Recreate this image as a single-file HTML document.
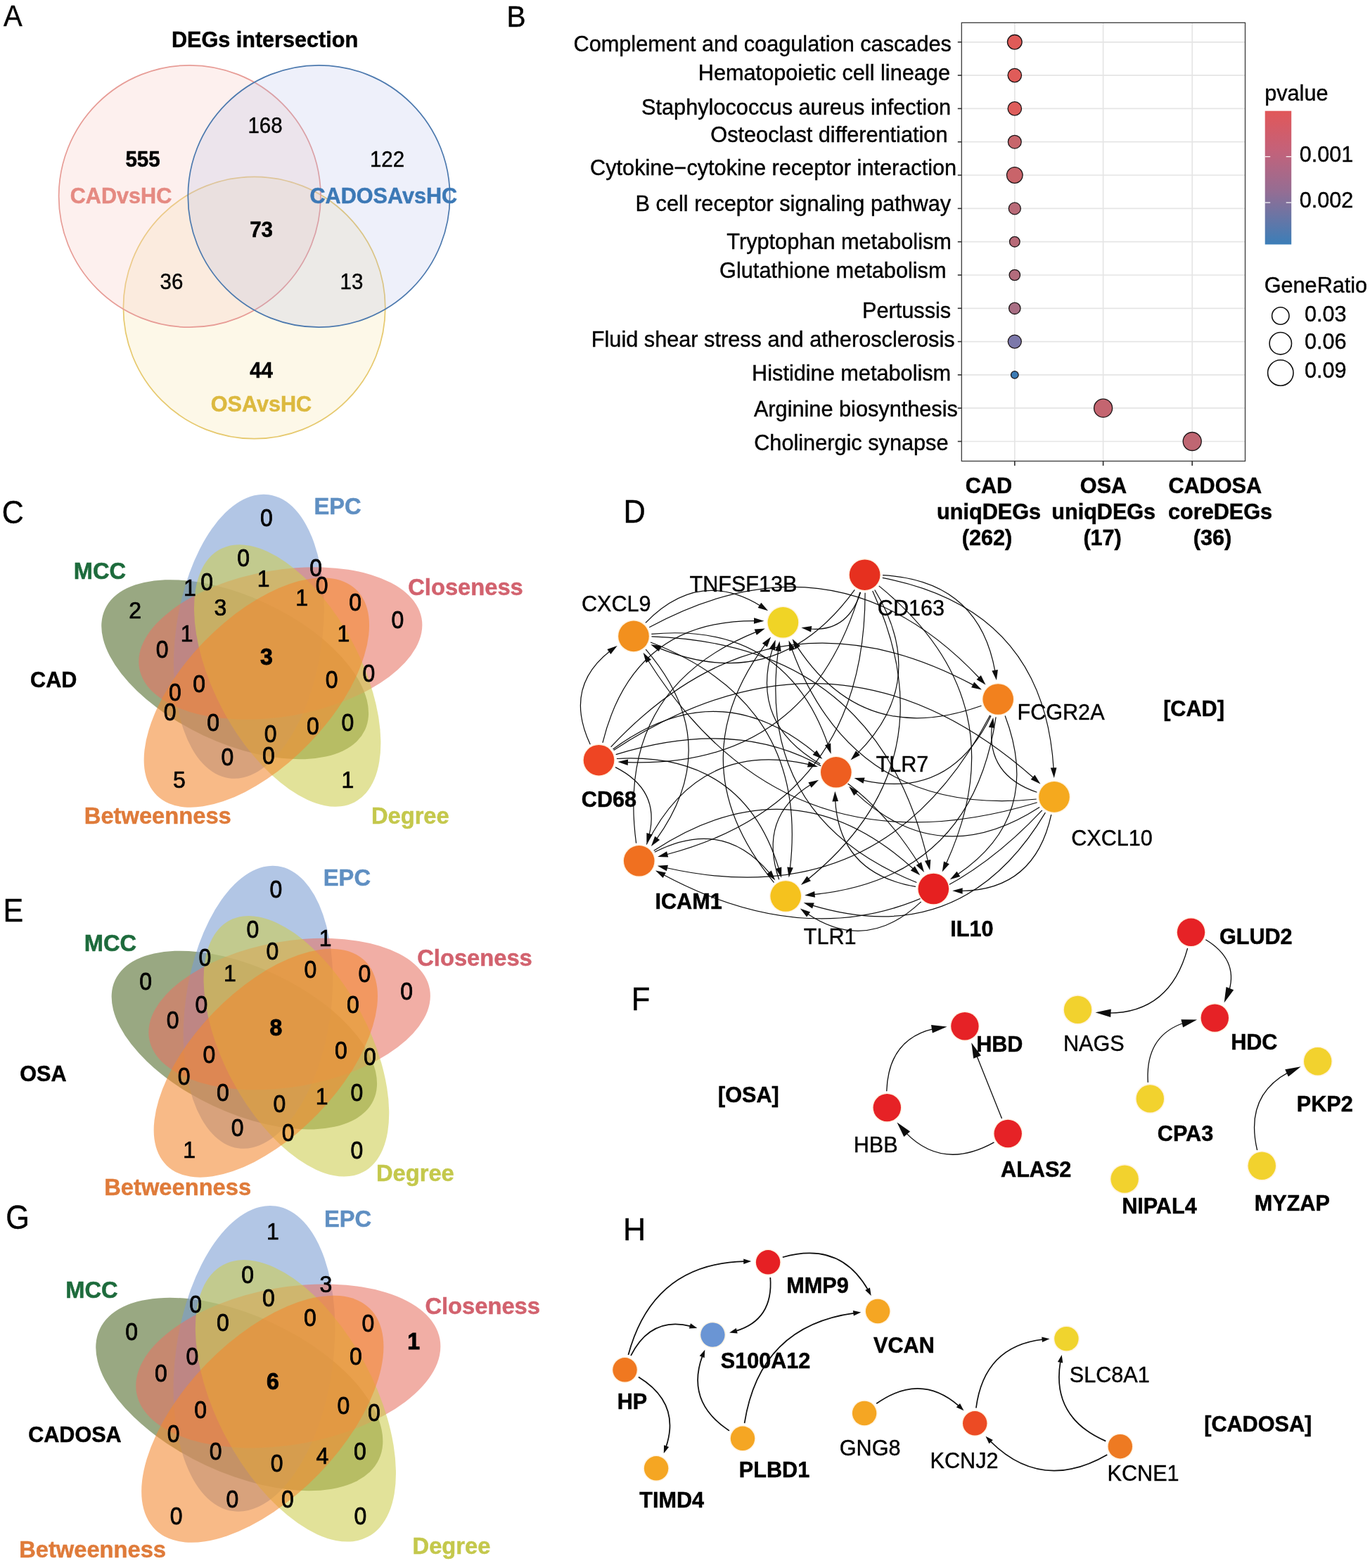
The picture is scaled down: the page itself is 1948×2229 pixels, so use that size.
<!DOCTYPE html>
<html lang="en"><head><meta charset="utf-8"><title>Figure</title>
<style>html,body{margin:0;padding:0;background:#fff}svg{display:block}svg text{font-family:"Liberation Sans",sans-serif}</style></head>
<body>
<svg width="1948" height="2229" viewBox="0 0 1948 2229" role="img" aria-label="Multi-panel figure: DEG Venn diagram, KEGG dot plot, hub-gene Venn diagrams and PPI networks">
<rect width="1948" height="2229" fill="#fff"/>
<g id="panelA">
<circle cx="361.6" cy="437.5" r="186.2" fill="rgb(248,232,178)" fill-opacity="0.3" stroke="#e6c96e" stroke-width="1.7"/>
<circle cx="269.8" cy="279.0" r="186.2" fill="rgb(248,205,198)" fill-opacity="0.3" stroke="#e79c96" stroke-width="1.7"/>
<circle cx="453.5" cy="279.0" r="186.2" fill="rgb(170,180,230)" fill-opacity="0.2" stroke="#4c79ae" stroke-width="1.7"/>
<text x="376.5" y="66.5" font-size="30.6" font-weight="bold" text-anchor="middle" stroke="#000" stroke-width="0.5">DEGs intersection</text>
<text transform="translate(377.0,188.8) scale(1,1.035)" font-size="29.5" text-anchor="middle" stroke="#000" stroke-width="0.4">168</text>
<text transform="translate(203.0,236.8) scale(1,1.035)" font-size="29.5" font-weight="bold" text-anchor="middle" stroke="#000" stroke-width="0.5">555</text>
<text transform="translate(550.5,237.4) scale(1,1.035)" font-size="29.5" text-anchor="middle" stroke="#000" stroke-width="0.4">122</text>
<text x="172.0" y="288.5" font-size="30.6" font-weight="bold" text-anchor="middle" fill="#e58a82" stroke="#e58a82" stroke-width="0.5">CADvsHC</text>
<text x="545.3" y="289.0" font-size="30.6" font-weight="bold" text-anchor="middle" fill="#3c79b6" stroke="#3c79b6" stroke-width="0.5">CADOSAvsHC</text>
<text transform="translate(371.6,336.8) scale(1,1.035)" font-size="29.5" font-weight="bold" text-anchor="middle" stroke="#000" stroke-width="0.5">73</text>
<text transform="translate(244.0,410.8) scale(1,1.035)" font-size="29.5" text-anchor="middle" stroke="#000" stroke-width="0.4">36</text>
<text transform="translate(500.0,410.8) scale(1,1.035)" font-size="29.5" text-anchor="middle" stroke="#000" stroke-width="0.4">13</text>
<text transform="translate(371.6,537.2) scale(1,1.035)" font-size="29.5" font-weight="bold" text-anchor="middle" stroke="#000" stroke-width="0.5">44</text>
<text x="371.5" y="584.6" font-size="30.6" font-weight="bold" text-anchor="middle" fill="#dcb93f" stroke="#dcb93f" stroke-width="0.5">OSAvsHC</text>
</g>
<g id="panelB">
<line x1="1367.3" x2="1770.5" y1="59.8" y2="59.8" stroke="#e5e5e5" stroke-width="1.7"/>
<line x1="1367.3" x2="1770.5" y1="107.1" y2="107.1" stroke="#e5e5e5" stroke-width="1.7"/>
<line x1="1367.3" x2="1770.5" y1="154.4" y2="154.4" stroke="#e5e5e5" stroke-width="1.7"/>
<line x1="1367.3" x2="1770.5" y1="201.7" y2="201.7" stroke="#e5e5e5" stroke-width="1.7"/>
<line x1="1367.3" x2="1770.5" y1="249.0" y2="249.0" stroke="#e5e5e5" stroke-width="1.7"/>
<line x1="1367.3" x2="1770.5" y1="296.4" y2="296.4" stroke="#e5e5e5" stroke-width="1.7"/>
<line x1="1367.3" x2="1770.5" y1="343.7" y2="343.7" stroke="#e5e5e5" stroke-width="1.7"/>
<line x1="1367.3" x2="1770.5" y1="391.0" y2="391.0" stroke="#e5e5e5" stroke-width="1.7"/>
<line x1="1367.3" x2="1770.5" y1="438.3" y2="438.3" stroke="#e5e5e5" stroke-width="1.7"/>
<line x1="1367.3" x2="1770.5" y1="485.6" y2="485.6" stroke="#e5e5e5" stroke-width="1.7"/>
<line x1="1367.3" x2="1770.5" y1="532.9" y2="532.9" stroke="#e5e5e5" stroke-width="1.7"/>
<line x1="1367.3" x2="1770.5" y1="580.2" y2="580.2" stroke="#e5e5e5" stroke-width="1.7"/>
<line x1="1367.3" x2="1770.5" y1="627.5" y2="627.5" stroke="#e5e5e5" stroke-width="1.7"/>
<line x1="1442.8" x2="1442.8" y1="32.3" y2="655.5" stroke="#e5e5e5" stroke-width="1.7"/>
<line x1="1568.6" x2="1568.6" y1="32.3" y2="655.5" stroke="#e5e5e5" stroke-width="1.7"/>
<line x1="1695.2" x2="1695.2" y1="32.3" y2="655.5" stroke="#e5e5e5" stroke-width="1.7"/>
<rect x="1367.3" y="32.3" width="403.2" height="623.2" fill="none" stroke="#3a3a3a" stroke-width="1.3"/>
<line x1="1361.8" x2="1367.3" y1="59.8" y2="59.8" stroke="#333" stroke-width="1.6"/>
<line x1="1361.8" x2="1367.3" y1="107.1" y2="107.1" stroke="#333" stroke-width="1.6"/>
<line x1="1361.8" x2="1367.3" y1="154.4" y2="154.4" stroke="#333" stroke-width="1.6"/>
<line x1="1361.8" x2="1367.3" y1="201.7" y2="201.7" stroke="#333" stroke-width="1.6"/>
<line x1="1361.8" x2="1367.3" y1="249.0" y2="249.0" stroke="#333" stroke-width="1.6"/>
<line x1="1361.8" x2="1367.3" y1="296.4" y2="296.4" stroke="#333" stroke-width="1.6"/>
<line x1="1361.8" x2="1367.3" y1="343.7" y2="343.7" stroke="#333" stroke-width="1.6"/>
<line x1="1361.8" x2="1367.3" y1="391.0" y2="391.0" stroke="#333" stroke-width="1.6"/>
<line x1="1361.8" x2="1367.3" y1="438.3" y2="438.3" stroke="#333" stroke-width="1.6"/>
<line x1="1361.8" x2="1367.3" y1="485.6" y2="485.6" stroke="#333" stroke-width="1.6"/>
<line x1="1361.8" x2="1367.3" y1="532.9" y2="532.9" stroke="#333" stroke-width="1.6"/>
<line x1="1361.8" x2="1367.3" y1="580.2" y2="580.2" stroke="#333" stroke-width="1.6"/>
<line x1="1361.8" x2="1367.3" y1="627.5" y2="627.5" stroke="#333" stroke-width="1.6"/>
<line x1="1442.8" x2="1442.8" y1="655.5" y2="662.0" stroke="#333" stroke-width="1.7"/>
<line x1="1568.6" x2="1568.6" y1="655.5" y2="662.0" stroke="#333" stroke-width="1.7"/>
<line x1="1695.2" x2="1695.2" y1="655.5" y2="662.0" stroke="#333" stroke-width="1.7"/>
<text x="1352.9" y="73.0" font-size="30.7" text-anchor="end" stroke="#000" stroke-width="0.4">Complement and coagulation cascades</text>
<text x="1351.0" y="113.8" font-size="30.7" text-anchor="end" stroke="#000" stroke-width="0.4">Hematopoietic cell lineage</text>
<text x="1352.2" y="163.0" font-size="30.7" text-anchor="end" stroke="#000" stroke-width="0.4">Staphylococcus aureus infection</text>
<text x="1347.5" y="202.2" font-size="30.7" text-anchor="end" stroke="#000" stroke-width="0.4">Osteoclast differentiation</text>
<text x="1360.2" y="249.4" font-size="30.7" text-anchor="end" stroke="#000" stroke-width="0.4">Cytokine−cytokine receptor interaction</text>
<text x="1352.2" y="299.7" font-size="30.7" text-anchor="end" stroke="#000" stroke-width="0.4">B cell receptor signaling pathway</text>
<text x="1352.9" y="353.6" font-size="30.7" text-anchor="end" stroke="#000" stroke-width="0.4">Tryptophan metabolism</text>
<text x="1345.5" y="395.0" font-size="30.7" text-anchor="end" stroke="#000" stroke-width="0.4">Glutathione metabolism</text>
<text x="1352.2" y="452.0" font-size="30.7" text-anchor="end" stroke="#000" stroke-width="0.4">Pertussis</text>
<text x="1357.6" y="493.2" font-size="30.7" text-anchor="end" stroke="#000" stroke-width="0.4">Fluid shear stress and atherosclerosis</text>
<text x="1352.2" y="541.4" font-size="30.7" text-anchor="end" stroke="#000" stroke-width="0.4">Histidine metabolism</text>
<text x="1361.9" y="591.6" font-size="30.7" text-anchor="end" stroke="#000" stroke-width="0.4">Arginine biosynthesis</text>
<text x="1348.5" y="639.5" font-size="30.7" text-anchor="end" stroke="#000" stroke-width="0.4">Cholinergic synapse</text>
<circle cx="1442.8" cy="59.8" r="10.3" fill="#e05b58" stroke="#1c1416" stroke-width="1.3"/>
<circle cx="1442.8" cy="107.1" r="9.7" fill="#e05c59" stroke="#1c1416" stroke-width="1.3"/>
<circle cx="1442.8" cy="154.4" r="9.7" fill="#de5d5b" stroke="#1c1416" stroke-width="1.3"/>
<circle cx="1442.8" cy="201.7" r="9.4" fill="#c8666c" stroke="#1c1416" stroke-width="1.3"/>
<circle cx="1442.8" cy="249.0" r="11.3" fill="#c9646a" stroke="#1c1416" stroke-width="1.3"/>
<circle cx="1442.8" cy="296.4" r="8.5" fill="#b96a78" stroke="#1c1416" stroke-width="1.3"/>
<circle cx="1442.8" cy="343.7" r="7.3" fill="#b86a78" stroke="#1c1416" stroke-width="1.3"/>
<circle cx="1442.8" cy="391.0" r="7.7" fill="#b36c7c" stroke="#1c1416" stroke-width="1.3"/>
<circle cx="1442.8" cy="438.3" r="8.2" fill="#a96e84" stroke="#1c1416" stroke-width="1.3"/>
<circle cx="1442.8" cy="485.6" r="9.5" fill="#7c78aa" stroke="#1c1416" stroke-width="1.3"/>
<circle cx="1442.8" cy="532.9" r="5.3" fill="#3c7ab4" stroke="#1c1416" stroke-width="1.3"/>
<circle cx="1568.6" cy="580.2" r="13.0" fill="#c46570" stroke="#1c1416" stroke-width="1.3"/>
<circle cx="1695.2" cy="627.5" r="13.0" fill="#bf6672" stroke="#1c1416" stroke-width="1.3"/>
<text x="1798.3" y="143.2" font-size="30.6" stroke="#000" stroke-width="0.4">pvalue</text>
<text transform="translate(1847.8,230.2) scale(1,1.035)" font-size="30.6" stroke="#000" stroke-width="0.4">0.001</text>
<text transform="translate(1847.8,295.4) scale(1,1.035)" font-size="30.6" stroke="#000" stroke-width="0.4">0.002</text>
<text x="1797.8" y="416.2" font-size="30.6" stroke="#000" stroke-width="0.4">GeneRatio</text>
<text transform="translate(1855.0,457.0) scale(1,1.035)" font-size="30.6" stroke="#000" stroke-width="0.4">0.03</text>
<text transform="translate(1855.0,496.0) scale(1,1.035)" font-size="30.6" stroke="#000" stroke-width="0.4">0.06</text>
<text transform="translate(1855.0,537.4) scale(1,1.035)" font-size="30.6" stroke="#000" stroke-width="0.4">0.09</text>
<text transform="translate(1406.0,700.8) scale(1,1.035)" font-size="30.6" font-weight="bold" text-anchor="middle" stroke="#000" stroke-width="0.5">CAD</text>
<text x="1406.0" y="738.3" font-size="30.6" font-weight="bold" text-anchor="middle" stroke="#000" stroke-width="0.5">uniqDEGs</text>
<text transform="translate(1403.5,775.2) scale(1,1.035)" font-size="30.6" font-weight="bold" text-anchor="middle" stroke="#000" stroke-width="0.5">(262)</text>
<text transform="translate(1569.0,700.8) scale(1,1.035)" font-size="30.6" font-weight="bold" text-anchor="middle" stroke="#000" stroke-width="0.5">OSA</text>
<text x="1569.2" y="738.3" font-size="30.6" font-weight="bold" text-anchor="middle" stroke="#000" stroke-width="0.5">uniqDEGs</text>
<text transform="translate(1567.6,775.2) scale(1,1.035)" font-size="30.6" font-weight="bold" text-anchor="middle" stroke="#000" stroke-width="0.5">(17)</text>
<text transform="translate(1727.7,700.8) scale(1,1.035)" font-size="30.6" font-weight="bold" text-anchor="middle" stroke="#000" stroke-width="0.5">CADOSA</text>
<text x="1735.0" y="738.3" font-size="30.6" font-weight="bold" text-anchor="middle" stroke="#000" stroke-width="0.5">coreDEGs</text>
<text transform="translate(1724.0,775.2) scale(1,1.035)" font-size="30.6" font-weight="bold" text-anchor="middle" stroke="#000" stroke-width="0.5">(36)</text>
<defs><linearGradient id="pv" x1="0" y1="0" x2="0" y2="1"><stop offset="0" stop-color="#e15759"/><stop offset="0.3" stop-color="#c3627a"/><stop offset="0.6" stop-color="#956d93"/><stop offset="1" stop-color="#3b7eb8"/></linearGradient></defs>
<rect x="1798.7" y="157.7" width="37.5" height="189.8" fill="url(#pv)"/>
<line x1="1798.7" x2="1806.2" y1="222.7" y2="222.7" stroke="#fff" stroke-width="1.2"/>
<line x1="1828.7" x2="1836.2" y1="222.7" y2="222.7" stroke="#fff" stroke-width="1.2"/>
<line x1="1798.7" x2="1806.2" y1="288.0" y2="288.0" stroke="#fff" stroke-width="1.2"/>
<line x1="1828.7" x2="1836.2" y1="288.0" y2="288.0" stroke="#fff" stroke-width="1.2"/>
<circle cx="1820.8" cy="449.0" r="12.2" fill="#fff" stroke="#111" stroke-width="1.6"/>
<circle cx="1820.8" cy="488.2" r="15.7" fill="#fff" stroke="#111" stroke-width="1.6"/>
<circle cx="1820.8" cy="530.0" r="18.2" fill="#fff" stroke="#111" stroke-width="1.6"/>
</g>
<g id="panelC">
<g transform="translate(99.6,700.1) scale(1.096,1.094)" fill-opacity="0.58">
<ellipse cx="0" cy="0" rx="186" ry="95" fill="rgb(79,105,39)" transform="translate(214,230) rotate(25)"/>
<ellipse cx="0" cy="0" rx="186" ry="95" fill="rgb(122,157,210)" transform="translate(232,187) rotate(98)"/>
<ellipse cx="0" cy="0" rx="186" ry="95" fill="rgb(231,115,100)" transform="translate(273,196) rotate(170)"/>
<ellipse cx="0" cy="0" rx="186" ry="95" fill="rgb(205,205,79)" transform="translate(282,238) rotate(62)"/>
<ellipse cx="0" cy="0" rx="186" ry="95" fill="rgb(243,136,48)" transform="translate(242,260) rotate(134)"/>
</g>
<text transform="translate(378.9,748.3) scale(1,1.12)" font-size="32" text-anchor="middle" stroke="#000" stroke-width="0.7">0</text>
<text transform="translate(346.1,805.2) scale(1,1.12)" font-size="32" text-anchor="middle" stroke="#000" stroke-width="0.7">0</text>
<text transform="translate(449.2,818.6) scale(1,1.12)" font-size="32" text-anchor="middle" stroke="#000" stroke-width="0.7">0</text>
<text transform="translate(374.6,834.4) scale(1,1.04)" font-size="32" text-anchor="middle" stroke="#000" stroke-width="0.7">1</text>
<text transform="translate(294.2,838.7) scale(1,1.12)" font-size="32" text-anchor="middle" stroke="#000" stroke-width="0.7">0</text>
<text transform="translate(269.8,846.8) scale(1,1.04)" font-size="32" text-anchor="middle" stroke="#000" stroke-width="0.7">1</text>
<text transform="translate(457.6,843.7) scale(1,1.12)" font-size="32" text-anchor="middle" stroke="#000" stroke-width="0.7">0</text>
<text transform="translate(429.1,860.5) scale(1,1.04)" font-size="32" text-anchor="middle" stroke="#000" stroke-width="0.7">1</text>
<text transform="translate(313.3,874.6) scale(1,1.04)" font-size="32" text-anchor="middle" stroke="#000" stroke-width="0.7">3</text>
<text transform="translate(505.1,867.8) scale(1,1.12)" font-size="32" text-anchor="middle" stroke="#000" stroke-width="0.7">0</text>
<text transform="translate(192.1,879.0) scale(1,1.04)" font-size="32" text-anchor="middle" stroke="#000" stroke-width="0.7">2</text>
<text transform="translate(565.4,892.9) scale(1,1.12)" font-size="32" text-anchor="middle" stroke="#000" stroke-width="0.7">0</text>
<text transform="translate(265.7,912.1) scale(1,1.04)" font-size="32" text-anchor="middle" stroke="#000" stroke-width="0.7">1</text>
<text transform="translate(488.4,912.1) scale(1,1.04)" font-size="32" text-anchor="middle" stroke="#000" stroke-width="0.7">1</text>
<text transform="translate(230.6,934.8) scale(1,1.12)" font-size="32" text-anchor="middle" stroke="#000" stroke-width="0.7">0</text>
<text transform="translate(378.9,944.9) scale(1,1.04)" font-size="32" font-weight="bold" text-anchor="middle" stroke="#000" stroke-width="0.9">3</text>
<text transform="translate(524.5,969.3) scale(1,1.12)" font-size="32" text-anchor="middle" stroke="#000" stroke-width="0.7">0</text>
<text transform="translate(471.6,977.6) scale(1,1.12)" font-size="32" text-anchor="middle" stroke="#000" stroke-width="0.7">0</text>
<text transform="translate(283.1,983.6) scale(1,1.12)" font-size="32" text-anchor="middle" stroke="#000" stroke-width="0.7">0</text>
<text transform="translate(249.0,996.0) scale(1,1.12)" font-size="32" text-anchor="middle" stroke="#000" stroke-width="0.7">0</text>
<text transform="translate(241.6,1023.5) scale(1,1.12)" font-size="32" text-anchor="middle" stroke="#000" stroke-width="0.7">0</text>
<text transform="translate(303.2,1038.9) scale(1,1.12)" font-size="32" text-anchor="middle" stroke="#000" stroke-width="0.7">0</text>
<text transform="translate(494.4,1038.9) scale(1,1.12)" font-size="32" text-anchor="middle" stroke="#000" stroke-width="0.7">0</text>
<text transform="translate(444.9,1043.6) scale(1,1.12)" font-size="32" text-anchor="middle" stroke="#000" stroke-width="0.7">0</text>
<text transform="translate(384.6,1055.3) scale(1,1.12)" font-size="32" text-anchor="middle" stroke="#000" stroke-width="0.7">0</text>
<text transform="translate(381.9,1085.8) scale(1,1.12)" font-size="32" text-anchor="middle" stroke="#000" stroke-width="0.7">0</text>
<text transform="translate(323.3,1088.1) scale(1,1.12)" font-size="32" text-anchor="middle" stroke="#000" stroke-width="0.7">0</text>
<text transform="translate(255.0,1120.0) scale(1,1.04)" font-size="32" text-anchor="middle" stroke="#000" stroke-width="0.7">5</text>
<text transform="translate(494.4,1120.0) scale(1,1.04)" font-size="32" text-anchor="middle" stroke="#000" stroke-width="0.7">1</text>
<text transform="translate(480.0,730.8) scale(1,1.035)" font-size="32.7" font-weight="bold" text-anchor="middle" fill="#5f8fc2" stroke="#5f8fc2" stroke-width="0.5">EPC</text>
<text transform="translate(141.9,823.3) scale(1,1.035)" font-size="32.7" font-weight="bold" text-anchor="middle" fill="#1d6b3c" stroke="#1d6b3c" stroke-width="0.5">MCC</text>
<text x="662.0" y="845.5" font-size="32.7" font-weight="bold" text-anchor="middle" fill="#d2626e" stroke="#d2626e" stroke-width="0.5">Closeness</text>
<text x="224.3" y="1171.1" font-size="32.7" font-weight="bold" text-anchor="middle" fill="#df7b3a" stroke="#df7b3a" stroke-width="0.5">Betweenness</text>
<text x="583.3" y="1171.1" font-size="32.7" font-weight="bold" text-anchor="middle" fill="#c4c84c" stroke="#c4c84c" stroke-width="0.5">Degree</text>
<text transform="translate(76.2,977.3) scale(1,1.035)" font-size="30.6" font-weight="bold" text-anchor="middle" stroke="#000" stroke-width="0.5">CAD</text>
</g>
<g id="panelE">
<g transform="translate(114.3,1228.25) scale(1.089,1.0885)" fill-opacity="0.58">
<ellipse cx="0" cy="0" rx="186" ry="95" fill="rgb(79,105,39)" transform="translate(214,230) rotate(25)"/>
<ellipse cx="0" cy="0" rx="186" ry="95" fill="rgb(122,157,210)" transform="translate(232,187) rotate(98)"/>
<ellipse cx="0" cy="0" rx="186" ry="95" fill="rgb(231,115,100)" transform="translate(273,196) rotate(170)"/>
<ellipse cx="0" cy="0" rx="186" ry="95" fill="rgb(205,205,79)" transform="translate(282,238) rotate(62)"/>
<ellipse cx="0" cy="0" rx="186" ry="95" fill="rgb(243,136,48)" transform="translate(242,260) rotate(134)"/>
</g>
<text transform="translate(392.3,1276.0) scale(1,1.12)" font-size="32" text-anchor="middle" stroke="#000" stroke-width="0.7">0</text>
<text transform="translate(359.5,1332.9) scale(1,1.12)" font-size="32" text-anchor="middle" stroke="#000" stroke-width="0.7">0</text>
<text transform="translate(462.6,1345.1) scale(1,1.04)" font-size="32" text-anchor="middle" stroke="#000" stroke-width="0.7">1</text>
<text transform="translate(387.3,1363.7) scale(1,1.12)" font-size="32" text-anchor="middle" stroke="#000" stroke-width="0.7">0</text>
<text transform="translate(291.5,1372.7) scale(1,1.12)" font-size="32" text-anchor="middle" stroke="#000" stroke-width="0.7">0</text>
<text transform="translate(441.5,1389.5) scale(1,1.12)" font-size="32" text-anchor="middle" stroke="#000" stroke-width="0.7">0</text>
<text transform="translate(327.0,1395.3) scale(1,1.04)" font-size="32" text-anchor="middle" stroke="#000" stroke-width="0.7">1</text>
<text transform="translate(518.5,1396.2) scale(1,1.12)" font-size="32" text-anchor="middle" stroke="#000" stroke-width="0.7">0</text>
<text transform="translate(207.1,1407.2) scale(1,1.12)" font-size="32" text-anchor="middle" stroke="#000" stroke-width="0.7">0</text>
<text transform="translate(578.1,1420.6) scale(1,1.12)" font-size="32" text-anchor="middle" stroke="#000" stroke-width="0.7">0</text>
<text transform="translate(286.5,1439.7) scale(1,1.12)" font-size="32" text-anchor="middle" stroke="#000" stroke-width="0.7">0</text>
<text transform="translate(501.8,1439.7) scale(1,1.12)" font-size="32" text-anchor="middle" stroke="#000" stroke-width="0.7">0</text>
<text transform="translate(245.6,1461.8) scale(1,1.12)" font-size="32" text-anchor="middle" stroke="#000" stroke-width="0.7">0</text>
<text transform="translate(392.3,1472.3) scale(1,1.04)" font-size="32" font-weight="bold" text-anchor="middle" stroke="#000" stroke-width="0.9">8</text>
<text transform="translate(485.0,1505.3) scale(1,1.12)" font-size="32" text-anchor="middle" stroke="#000" stroke-width="0.7">0</text>
<text transform="translate(525.9,1514.4) scale(1,1.12)" font-size="32" text-anchor="middle" stroke="#000" stroke-width="0.7">0</text>
<text transform="translate(297.5,1511.0) scale(1,1.12)" font-size="32" text-anchor="middle" stroke="#000" stroke-width="0.7">0</text>
<text transform="translate(261.7,1541.8) scale(1,1.12)" font-size="32" text-anchor="middle" stroke="#000" stroke-width="0.7">0</text>
<text transform="translate(317.0,1565.3) scale(1,1.12)" font-size="32" text-anchor="middle" stroke="#000" stroke-width="0.7">0</text>
<text transform="translate(507.5,1565.3) scale(1,1.12)" font-size="32" text-anchor="middle" stroke="#000" stroke-width="0.7">0</text>
<text transform="translate(457.6,1569.7) scale(1,1.04)" font-size="32" text-anchor="middle" stroke="#000" stroke-width="0.7">1</text>
<text transform="translate(397.3,1581.3) scale(1,1.12)" font-size="32" text-anchor="middle" stroke="#000" stroke-width="0.7">0</text>
<text transform="translate(337.7,1614.8) scale(1,1.12)" font-size="32" text-anchor="middle" stroke="#000" stroke-width="0.7">0</text>
<text transform="translate(409.7,1621.5) scale(1,1.12)" font-size="32" text-anchor="middle" stroke="#000" stroke-width="0.7">0</text>
<text transform="translate(269.1,1646.4) scale(1,1.04)" font-size="32" text-anchor="middle" stroke="#000" stroke-width="0.7">1</text>
<text transform="translate(507.5,1647.3) scale(1,1.12)" font-size="32" text-anchor="middle" stroke="#000" stroke-width="0.7">0</text>
<text transform="translate(493.4,1259.2) scale(1,1.035)" font-size="32.7" font-weight="bold" text-anchor="middle" fill="#5f8fc2" stroke="#5f8fc2" stroke-width="0.5">EPC</text>
<text transform="translate(157.0,1351.6) scale(1,1.035)" font-size="32.7" font-weight="bold" text-anchor="middle" fill="#1d6b3c" stroke="#1d6b3c" stroke-width="0.5">MCC</text>
<text x="675.0" y="1373.4" font-size="32.7" font-weight="bold" text-anchor="middle" fill="#d2626e" stroke="#d2626e" stroke-width="0.5">Closeness</text>
<text x="252.7" y="1698.8" font-size="32.7" font-weight="bold" text-anchor="middle" fill="#df7b3a" stroke="#df7b3a" stroke-width="0.5">Betweenness</text>
<text x="590.4" y="1678.7" font-size="32.7" font-weight="bold" text-anchor="middle" fill="#c4c84c" stroke="#c4c84c" stroke-width="0.5">Degree</text>
<text transform="translate(61.4,1537.2) scale(1,1.035)" font-size="30.6" font-weight="bold" text-anchor="middle" stroke="#000" stroke-width="0.5">OSA</text>
</g>
<g id="panelG">
<g transform="translate(88.3,1711.3) scale(1.1776,1.1767)" fill-opacity="0.58">
<ellipse cx="0" cy="0" rx="186" ry="95" fill="rgb(79,105,39)" transform="translate(214,230) rotate(25)"/>
<ellipse cx="0" cy="0" rx="186" ry="95" fill="rgb(122,157,210)" transform="translate(232,187) rotate(98)"/>
<ellipse cx="0" cy="0" rx="186" ry="95" fill="rgb(231,115,100)" transform="translate(273,196) rotate(170)"/>
<ellipse cx="0" cy="0" rx="186" ry="95" fill="rgb(205,205,79)" transform="translate(282,238) rotate(62)"/>
<ellipse cx="0" cy="0" rx="186" ry="95" fill="rgb(243,136,48)" transform="translate(242,260) rotate(134)"/>
</g>
<text transform="translate(387.9,1761.7) scale(1,1.04)" font-size="32" text-anchor="middle" stroke="#000" stroke-width="0.7">1</text>
<text transform="translate(352.1,1824.2) scale(1,1.12)" font-size="32" text-anchor="middle" stroke="#000" stroke-width="0.7">0</text>
<text transform="translate(463.3,1837.1) scale(1,1.04)" font-size="32" text-anchor="middle" stroke="#000" stroke-width="0.7">3</text>
<text transform="translate(381.9,1857.4) scale(1,1.12)" font-size="32" text-anchor="middle" stroke="#000" stroke-width="0.7">0</text>
<text transform="translate(278.1,1866.1) scale(1,1.12)" font-size="32" text-anchor="middle" stroke="#000" stroke-width="0.7">0</text>
<text transform="translate(440.8,1884.5) scale(1,1.12)" font-size="32" text-anchor="middle" stroke="#000" stroke-width="0.7">0</text>
<text transform="translate(317.0,1892.2) scale(1,1.12)" font-size="32" text-anchor="middle" stroke="#000" stroke-width="0.7">0</text>
<text transform="translate(523.5,1892.5) scale(1,1.12)" font-size="32" text-anchor="middle" stroke="#000" stroke-width="0.7">0</text>
<text transform="translate(187.1,1904.6) scale(1,1.12)" font-size="32" text-anchor="middle" stroke="#000" stroke-width="0.7">0</text>
<text transform="translate(588.2,1918.1) scale(1,1.04)" font-size="32" font-weight="bold" text-anchor="middle" stroke="#000" stroke-width="0.9">1</text>
<text transform="translate(273.4,1939.7) scale(1,1.12)" font-size="32" text-anchor="middle" stroke="#000" stroke-width="0.7">0</text>
<text transform="translate(505.8,1939.7) scale(1,1.12)" font-size="32" text-anchor="middle" stroke="#000" stroke-width="0.7">0</text>
<text transform="translate(228.9,1963.5) scale(1,1.12)" font-size="32" text-anchor="middle" stroke="#000" stroke-width="0.7">0</text>
<text transform="translate(387.9,1975.0) scale(1,1.04)" font-size="32" font-weight="bold" text-anchor="middle" stroke="#000" stroke-width="0.9">6</text>
<text transform="translate(488.4,2010.1) scale(1,1.12)" font-size="32" text-anchor="middle" stroke="#000" stroke-width="0.7">0</text>
<text transform="translate(531.9,2020.1) scale(1,1.12)" font-size="32" text-anchor="middle" stroke="#000" stroke-width="0.7">0</text>
<text transform="translate(285.2,2016.1) scale(1,1.12)" font-size="32" text-anchor="middle" stroke="#000" stroke-width="0.7">0</text>
<text transform="translate(246.7,2049.6) scale(1,1.12)" font-size="32" text-anchor="middle" stroke="#000" stroke-width="0.7">0</text>
<text transform="translate(306.6,2075.3) scale(1,1.12)" font-size="32" text-anchor="middle" stroke="#000" stroke-width="0.7">0</text>
<text transform="translate(511.8,2075.3) scale(1,1.12)" font-size="32" text-anchor="middle" stroke="#000" stroke-width="0.7">0</text>
<text transform="translate(458.3,2080.5) scale(1,1.04)" font-size="32" text-anchor="middle" stroke="#000" stroke-width="0.7">4</text>
<text transform="translate(393.6,2092.4) scale(1,1.12)" font-size="32" text-anchor="middle" stroke="#000" stroke-width="0.7">0</text>
<text transform="translate(330.4,2143.3) scale(1,1.12)" font-size="32" text-anchor="middle" stroke="#000" stroke-width="0.7">0</text>
<text transform="translate(409.0,2143.3) scale(1,1.12)" font-size="32" text-anchor="middle" stroke="#000" stroke-width="0.7">0</text>
<text transform="translate(250.7,2166.8) scale(1,1.12)" font-size="32" text-anchor="middle" stroke="#000" stroke-width="0.7">0</text>
<text transform="translate(512.5,2166.8) scale(1,1.12)" font-size="32" text-anchor="middle" stroke="#000" stroke-width="0.7">0</text>
<text transform="translate(494.6,1744.2) scale(1,1.035)" font-size="32.7" font-weight="bold" text-anchor="middle" fill="#5f8fc2" stroke="#5f8fc2" stroke-width="0.5">EPC</text>
<text transform="translate(130.4,1845.1) scale(1,1.035)" font-size="32.7" font-weight="bold" text-anchor="middle" fill="#1d6b3c" stroke="#1d6b3c" stroke-width="0.5">MCC</text>
<text x="686.2" y="1868.4" font-size="32.7" font-weight="bold" text-anchor="middle" fill="#d2626e" stroke="#d2626e" stroke-width="0.5">Closeness</text>
<text x="131.6" y="2213.9" font-size="32.7" font-weight="bold" text-anchor="middle" fill="#df7b3a" stroke="#df7b3a" stroke-width="0.5">Betweenness</text>
<text x="642.0" y="2208.8" font-size="32.7" font-weight="bold" text-anchor="middle" fill="#c4c84c" stroke="#c4c84c" stroke-width="0.5">Degree</text>
<text transform="translate(106.4,2050.0) scale(1,1.035)" font-size="30.6" font-weight="bold" text-anchor="middle" stroke="#000" stroke-width="0.5">CADOSA</text>
</g>
<g id="panelD">
<path d="M1222.8,841.8Q1147.7,1093.1 890.7,1083.6" fill="none" stroke="#0d0d0d" stroke-width="1.2"/><path d="M878.4,1083.0L893.1,1079.4L892.7,1088.0Z" fill="#0d0d0d"/>
<path d="M1254.8,821.4Q1484.5,865.3 1498.2,1093.6" fill="none" stroke="#0d0d0d" stroke-width="1.2"/><path d="M1498.8,1105.9L1493.8,1091.6L1502.4,1091.2Z" fill="#0d0d0d"/>
<path d="M1215.3,838.3Q1105.2,989.9 936.6,921.1" fill="none" stroke="#0d0d0d" stroke-width="1.2"/><path d="M925.3,916.2L940.3,918.0L936.9,925.9Z" fill="#0d0d0d"/>
<path d="M1255.1,817.6Q1392.1,825.0 1415.0,954.9" fill="none" stroke="#0d0d0d" stroke-width="1.2"/><path d="M1416.9,967.1L1410.4,953.4L1418.9,952.1Z" fill="#0d0d0d"/>
<path d="M1230.1,842.7Q1229.9,1140.4 947.0,1215.0" fill="none" stroke="#0d0d0d" stroke-width="1.2"/><path d="M935.1,1218.0L948.1,1210.3L950.2,1218.6Z" fill="#0d0d0d"/>
<path d="M1249.7,832.9Q1451.2,996.9 1345.0,1228.4" fill="none" stroke="#0d0d0d" stroke-width="1.2"/><path d="M1339.7,1239.5L1342.0,1224.6L1349.8,1228.3Z" fill="#0d0d0d"/>
<path d="M1240.7,840.1Q1352.4,1084.0 1148.5,1250.2" fill="none" stroke="#0d0d0d" stroke-width="1.2"/><path d="M1138.9,1257.9L1147.5,1245.5L1152.9,1252.2Z" fill="#0d0d0d"/>
<path d="M1243.7,838.5Q1322.9,968.6 1218.4,1071.9" fill="none" stroke="#0d0d0d" stroke-width="1.2"/><path d="M1209.5,1080.4L1217.0,1067.3L1222.9,1073.5Z" fill="#0d0d0d"/>
<path d="M1223.7,842.0Q1205.4,898.4 1151.6,894.0" fill="none" stroke="#0d0d0d" stroke-width="1.2"/><path d="M1139.4,892.2L1154.3,890.0L1153.1,898.5Z" fill="#0d0d0d"/>
<path d="M872.6,1066.4Q1189.8,858.5 1470.2,1106.2" fill="none" stroke="#0d0d0d" stroke-width="1.2"/><path d="M1479.4,1114.4L1465.7,1107.9L1471.4,1101.5Z" fill="#0d0d0d"/>
<path d="M839.3,1058.3Q801.1,977.1 867.7,925.2" fill="none" stroke="#0d0d0d" stroke-width="1.2"/><path d="M877.7,918.0L868.4,930.0L863.4,923.0Z" fill="#0d0d0d"/>
<path d="M868.6,1061.8Q1096.6,819.6 1385.1,974.4" fill="none" stroke="#0d0d0d" stroke-width="1.2"/><path d="M1395.9,980.4L1381.1,977.2L1385.2,969.6Z" fill="#0d0d0d"/>
<path d="M875.0,1090.6Q939.0,1122.9 923.0,1187.2" fill="none" stroke="#0d0d0d" stroke-width="1.2"/><path d="M919.4,1199.0L919.4,1183.9L927.7,1186.4Z" fill="#0d0d0d"/>
<path d="M875.7,1072.6Q1155.1,985.9 1307.5,1229.5" fill="none" stroke="#0d0d0d" stroke-width="1.2"/><path d="M1314.0,1240.0L1302.7,1229.9L1310.1,1225.4Z" fill="#0d0d0d"/>
<path d="M876.9,1078.5Q1056.9,1068.4 1107.7,1235.8" fill="none" stroke="#0d0d0d" stroke-width="1.2"/><path d="M1111.1,1247.7L1103.0,1234.9L1111.3,1232.6Z" fill="#0d0d0d"/>
<path d="M871.6,1065.0Q1021.5,955.0 1160.0,1071.1" fill="none" stroke="#0d0d0d" stroke-width="1.2"/><path d="M1169.3,1079.1L1155.5,1072.9L1161.2,1066.4Z" fill="#0d0d0d"/>
<path d="M856.9,1055.8Q900.1,881.7 1074.1,882.6" fill="none" stroke="#0d0d0d" stroke-width="1.2"/><path d="M1086.5,882.8L1071.9,886.8L1072.1,878.2Z" fill="#0d0d0d"/>
<path d="M1474.7,1140.7Q1117.6,1249.6 921.1,938.2" fill="none" stroke="#0d0d0d" stroke-width="1.2"/><path d="M914.6,927.7L925.9,937.8L918.6,942.3Z" fill="#0d0d0d"/>
<path d="M1474.4,1126.3Q1402.9,1102.0 1410.3,1032.3" fill="none" stroke="#0d0d0d" stroke-width="1.2"/><path d="M1412.2,1020.1L1414.3,1035.1L1405.8,1033.8Z" fill="#0d0d0d"/>
<path d="M1481.8,1151.8Q1244.2,1404.3 942.9,1243.3" fill="none" stroke="#0d0d0d" stroke-width="1.2"/><path d="M932.0,1237.4L946.8,1240.5L942.7,1248.1Z" fill="#0d0d0d"/>
<path d="M1494.8,1158.0Q1471.2,1265.6 1366.5,1266.5" fill="none" stroke="#0d0d0d" stroke-width="1.2"/><path d="M1354.2,1266.2L1368.7,1262.2L1368.6,1270.8Z" fill="#0d0d0d"/>
<path d="M1486.4,1155.1Q1368.6,1351.4 1154.4,1286.9" fill="none" stroke="#0d0d0d" stroke-width="1.2"/><path d="M1142.6,1283.2L1157.7,1283.4L1155.1,1291.6Z" fill="#0d0d0d"/>
<path d="M1478.1,1147.5Q1335.3,1239.9 1215.8,1126.4" fill="none" stroke="#0d0d0d" stroke-width="1.2"/><path d="M1207.0,1117.7L1220.3,1124.9L1214.3,1131.0Z" fill="#0d0d0d"/>
<path d="M1473.7,1136.0Q1214.1,1162.0 1125.7,922.2" fill="none" stroke="#0d0d0d" stroke-width="1.2"/><path d="M1121.5,910.5L1130.5,922.8L1122.3,925.6Z" fill="#0d0d0d"/>
<path d="M923.2,891.8Q1189.3,747.9 1393.2,964.5" fill="none" stroke="#0d0d0d" stroke-width="1.2"/><path d="M1401.5,973.6L1388.5,965.9L1394.8,960.0Z" fill="#0d0d0d"/>
<path d="M918.2,923.2Q1032.1,1055.6 933.3,1193.1" fill="none" stroke="#0d0d0d" stroke-width="1.2"/><path d="M925.9,1203.0L931.2,1188.8L938.1,1194.0Z" fill="#0d0d0d"/>
<path d="M926.5,904.8Q1248.4,916.1 1319.6,1224.9" fill="none" stroke="#0d0d0d" stroke-width="1.2"/><path d="M1322.2,1237.0L1314.9,1223.7L1323.3,1221.9Z" fill="#0d0d0d"/>
<path d="M925.0,913.0Q1150.9,999.9 1123.3,1235.2" fill="none" stroke="#0d0d0d" stroke-width="1.2"/><path d="M1121.7,1247.4L1119.3,1232.4L1127.8,1233.6Z" fill="#0d0d0d"/>
<path d="M926.3,901.3Q1117.1,883.9 1177.8,1060.0" fill="none" stroke="#0d0d0d" stroke-width="1.2"/><path d="M1181.6,1071.8L1173.0,1059.3L1181.2,1056.6Z" fill="#0d0d0d"/>
<path d="M917.9,885.3Q993.7,807.5 1081.7,861.5" fill="none" stroke="#0d0d0d" stroke-width="1.2"/><path d="M1092.1,868.2L1077.6,863.9L1082.3,856.7Z" fill="#0d0d0d"/>
<path d="M1407.8,1016.8Q1257.5,1303.4 946.8,1233.5" fill="none" stroke="#0d0d0d" stroke-width="1.2"/><path d="M934.8,1230.7L949.9,1229.8L947.9,1238.2Z" fill="#0d0d0d"/>
<path d="M1429.1,1017.5Q1483.5,1160.6 1361.1,1243.5" fill="none" stroke="#0d0d0d" stroke-width="1.2"/><path d="M1350.8,1250.2L1360.6,1238.7L1365.3,1245.9Z" fill="#0d0d0d"/>
<path d="M1416.1,1019.3Q1382.0,1248.7 1156.5,1271.6" fill="none" stroke="#0d0d0d" stroke-width="1.2"/><path d="M1144.2,1272.7L1158.2,1267.1L1159.0,1275.7Z" fill="#0d0d0d"/>
<path d="M1409.1,1017.4Q1351.1,1137.3 1226.5,1109.1" fill="none" stroke="#0d0d0d" stroke-width="1.2"/><path d="M1214.5,1106.1L1229.6,1105.5L1227.5,1113.8Z" fill="#0d0d0d"/>
<path d="M1395.5,1003.3Q1227.9,1063.1 1133.2,918.8" fill="none" stroke="#0d0d0d" stroke-width="1.2"/><path d="M1126.6,908.3L1138.0,918.3L1130.7,922.9Z" fill="#0d0d0d"/>
<path d="M929.7,1209.3Q1128.1,1079.2 1299.4,1235.8" fill="none" stroke="#0d0d0d" stroke-width="1.2"/><path d="M1308.3,1244.3L1294.8,1237.5L1300.7,1231.2Z" fill="#0d0d0d"/>
<path d="M930.8,1211.2Q1028.4,1161.7 1094.7,1241.7" fill="none" stroke="#0d0d0d" stroke-width="1.2"/><path d="M1102.3,1251.5L1090.0,1242.7L1096.8,1237.4Z" fill="#0d0d0d"/>
<path d="M919.2,1200.6Q993.4,1051.0 1151.0,1086.9" fill="none" stroke="#0d0d0d" stroke-width="1.2"/><path d="M1163.0,1089.9L1147.9,1090.6L1149.9,1082.2Z" fill="#0d0d0d"/>
<path d="M904.6,1198.6Q875.0,978.5 1076.3,897.9" fill="none" stroke="#0d0d0d" stroke-width="1.2"/><path d="M1087.8,893.4L1075.8,902.7L1072.7,894.6Z" fill="#0d0d0d"/>
<path d="M1309.7,1281.9Q1232.0,1355.2 1147.8,1298.7" fill="none" stroke="#0d0d0d" stroke-width="1.2"/><path d="M1137.8,1291.5L1152.1,1296.4L1147.1,1303.4Z" fill="#0d0d0d"/>
<path d="M1302.0,1260.4Q1193.3,1241.8 1187.6,1137.1" fill="none" stroke="#0d0d0d" stroke-width="1.2"/><path d="M1187.3,1124.8L1192.0,1139.1L1183.4,1139.4Z" fill="#0d0d0d"/>
<path d="M1303.4,1254.5Q1075.0,1162.5 1106.7,923.6" fill="none" stroke="#0d0d0d" stroke-width="1.2"/><path d="M1108.5,911.4L1110.7,926.3L1102.2,925.1Z" fill="#0d0d0d"/>
<path d="M1107.7,1250.3Q1077.5,1161.1 1153.4,1114.9" fill="none" stroke="#0d0d0d" stroke-width="1.2"/><path d="M1164.1,1108.8L1153.6,1119.7L1149.4,1112.2Z" fill="#0d0d0d"/>
<path d="M1100.5,1254.7Q962.2,1086.3 1088.7,915.4" fill="none" stroke="#0d0d0d" stroke-width="1.2"/><path d="M1096.1,905.6L1090.8,919.7L1083.9,914.5Z" fill="#0d0d0d"/>
<path d="M1166.2,1086.0Q1065.5,1027.3 1098.7,921.3" fill="none" stroke="#0d0d0d" stroke-width="1.2"/><path d="M1102.7,909.6L1102.1,924.7L1093.9,921.9Z" fill="#0d0d0d"/>
<circle cx="1229.6" cy="817.2" r="23.400000000000002" fill="#fff4e3"/><circle cx="1229.6" cy="817.2" r="21.8" fill="#e6301f"/>
<circle cx="1113.4" cy="884.8" r="23.400000000000002" fill="#fff4e3"/><circle cx="1113.4" cy="884.8" r="21.8" fill="#f0d426"/>
<circle cx="901.0" cy="904.4" r="23.400000000000002" fill="#fff4e3"/><circle cx="901.0" cy="904.4" r="21.8" fill="#f2901e"/>
<circle cx="1419.2" cy="994.0" r="23.400000000000002" fill="#fff4e3"/><circle cx="1419.2" cy="994.0" r="21.8" fill="#f2811e"/>
<circle cx="851.5" cy="1080.7" r="23.400000000000002" fill="#fff4e3"/><circle cx="851.5" cy="1080.7" r="21.8" fill="#ee4523"/>
<circle cx="1188.8" cy="1097.8" r="23.400000000000002" fill="#fff4e3"/><circle cx="1188.8" cy="1097.8" r="21.8" fill="#ee5e20"/>
<circle cx="1499.0" cy="1132.9" r="23.400000000000002" fill="#fff4e3"/><circle cx="1499.0" cy="1132.9" r="21.8" fill="#f5a91e"/>
<circle cx="908.7" cy="1223.8" r="23.400000000000002" fill="#fff4e3"/><circle cx="908.7" cy="1223.8" r="21.8" fill="#f07020"/>
<circle cx="1117.2" cy="1274.0" r="23.400000000000002" fill="#fff4e3"/><circle cx="1117.2" cy="1274.0" r="21.8" fill="#f5c21e"/>
<circle cx="1327.3" cy="1263.5" r="23.400000000000002" fill="#fff4e3"/><circle cx="1327.3" cy="1263.5" r="21.8" fill="#e62020"/>
<text transform="translate(876.2,869.2) scale(1,1.035)" font-size="30.6" text-anchor="middle" stroke="#000" stroke-width="0.4">CXCL9</text>
<text transform="translate(1057.0,840.9) scale(1,1.035)" font-size="30.6" text-anchor="middle" stroke="#000" stroke-width="0.4">TNFSF13B</text>
<text transform="translate(1295.4,875.0) scale(1,1.035)" font-size="30.6" text-anchor="middle" stroke="#000" stroke-width="0.4">CD163</text>
<text transform="translate(1508.5,1023.2) scale(1,1.035)" font-size="30.6" text-anchor="middle" stroke="#000" stroke-width="0.4">FCGR2A</text>
<text transform="translate(1697.5,1017.8) scale(1,1.035)" font-size="30.6" font-weight="bold" text-anchor="middle" stroke="#000" stroke-width="0.5">[CAD]</text>
<text transform="translate(865.9,1146.7) scale(1,1.035)" font-size="30.6" font-weight="bold" text-anchor="middle" stroke="#000" stroke-width="0.5">CD68</text>
<text transform="translate(979.1,1291.9) scale(1,1.035)" font-size="30.6" font-weight="bold" text-anchor="middle" stroke="#000" stroke-width="0.5">ICAM1</text>
<text transform="translate(1180.1,1341.9) scale(1,1.035)" font-size="30.6" text-anchor="middle" stroke="#000" stroke-width="0.4">TLR1</text>
<text transform="translate(1282.9,1097.3) scale(1,1.035)" font-size="30.6" text-anchor="middle" stroke="#000" stroke-width="0.4">TLR7</text>
<text transform="translate(1381.8,1331.3) scale(1,1.035)" font-size="30.6" font-weight="bold" text-anchor="middle" stroke="#000" stroke-width="0.5">IL10</text>
<text transform="translate(1581.0,1201.6) scale(1,1.035)" font-size="30.6" text-anchor="middle" stroke="#000" stroke-width="0.4">CXCL10</text>
</g>
<g id="panelF">
<path d="M1260.7,1551.3Q1263.2,1477.0 1328.0,1462.3" fill="none" stroke="#0d0d0d" stroke-width="1.3"/><path d="M1346.6,1459.4L1325.8,1468.5L1324.0,1457.1Z" fill="#0d0d0d"/>
<path d="M1424.5,1589.9Q1406.4,1544.8 1388.3,1499.6" fill="none" stroke="#0d0d0d" stroke-width="1.3"/><path d="M1381.3,1482.3L1394.9,1500.6L1384.2,1504.8Z" fill="#0d0d0d"/>
<path d="M1413.5,1623.9Q1340.3,1664.5 1287.6,1609.9" fill="none" stroke="#0d0d0d" stroke-width="1.3"/><path d="M1275.4,1595.6L1294.1,1608.6L1285.3,1616.1Z" fill="#0d0d0d"/>
<path d="M1688.6,1348.0Q1663.8,1439.9 1576.2,1440.2" fill="none" stroke="#0d0d0d" stroke-width="1.3"/><path d="M1557.5,1439.2L1579.8,1434.6L1579.2,1446.1Z" fill="#0d0d0d"/>
<path d="M1714.3,1335.7Q1760.6,1363.7 1747.7,1408.1" fill="none" stroke="#0d0d0d" stroke-width="1.3"/><path d="M1740.6,1425.6L1743.5,1403.0L1754.2,1407.3Z" fill="#0d0d0d"/>
<path d="M1632.3,1538.8Q1628.1,1472.4 1683.8,1454.0" fill="none" stroke="#0d0d0d" stroke-width="1.3"/><path d="M1702.1,1449.5L1682.1,1460.4L1679.4,1449.2Z" fill="#0d0d0d"/>
<path d="M1787.6,1635.0Q1769.4,1557.8 1832.5,1524.1" fill="none" stroke="#0d0d0d" stroke-width="1.3"/><path d="M1849.6,1516.3L1831.9,1530.6L1827.2,1520.2Z" fill="#0d0d0d"/>
<circle cx="1693.5" cy="1325.2" r="21.3" fill="#fff4e3"/><circle cx="1693.5" cy="1325.2" r="19.7" fill="#e62226"/>
<circle cx="1532.5" cy="1435.4" r="21.3" fill="#fff4e3"/><circle cx="1532.5" cy="1435.4" r="19.7" fill="#f2d22e"/>
<circle cx="1727.3" cy="1447.1" r="21.3" fill="#fff4e3"/><circle cx="1727.3" cy="1447.1" r="19.7" fill="#e62226"/>
<circle cx="1371.9" cy="1458.8" r="21.3" fill="#fff4e3"/><circle cx="1371.9" cy="1458.8" r="19.7" fill="#e62226"/>
<circle cx="1873.7" cy="1508.7" r="21.3" fill="#fff4e3"/><circle cx="1873.7" cy="1508.7" r="19.7" fill="#f2d22e"/>
<circle cx="1635.3" cy="1561.9" r="21.3" fill="#fff4e3"/><circle cx="1635.3" cy="1561.9" r="19.7" fill="#f2d22e"/>
<circle cx="1261.3" cy="1574.6" r="21.3" fill="#fff4e3"/><circle cx="1261.3" cy="1574.6" r="19.7" fill="#e62226"/>
<circle cx="1433.2" cy="1611.5" r="21.3" fill="#fff4e3"/><circle cx="1433.2" cy="1611.5" r="19.7" fill="#e62226"/>
<circle cx="1599.1" cy="1676.1" r="21.3" fill="#fff4e3"/><circle cx="1599.1" cy="1676.1" r="19.7" fill="#f2d22e"/>
<circle cx="1794.3" cy="1657.3" r="21.3" fill="#fff4e3"/><circle cx="1794.3" cy="1657.3" r="19.7" fill="#f2d22e"/>
<text transform="translate(1785.8,1341.9) scale(1,1.035)" font-size="30.6" font-weight="bold" text-anchor="middle" stroke="#000" stroke-width="0.5">GLUD2</text>
<text transform="translate(1555.3,1494.3) scale(1,1.035)" font-size="30.6" text-anchor="middle" stroke="#000" stroke-width="0.4">NAGS</text>
<text transform="translate(1783.3,1491.9) scale(1,1.035)" font-size="30.6" font-weight="bold" text-anchor="middle" stroke="#000" stroke-width="0.5">HDC</text>
<text transform="translate(1421.3,1495.0) scale(1,1.035)" font-size="30.6" font-weight="bold" text-anchor="middle" stroke="#000" stroke-width="0.5">HBD</text>
<text transform="translate(1883.7,1579.7) scale(1,1.035)" font-size="30.6" font-weight="bold" text-anchor="middle" stroke="#000" stroke-width="0.5">PKP2</text>
<text transform="translate(1685.5,1621.5) scale(1,1.035)" font-size="30.6" font-weight="bold" text-anchor="middle" stroke="#000" stroke-width="0.5">CPA3</text>
<text transform="translate(1245.2,1637.6) scale(1,1.035)" font-size="30.6" text-anchor="middle" stroke="#000" stroke-width="0.4">HBB</text>
<text transform="translate(1473.2,1673.4) scale(1,1.035)" font-size="30.6" font-weight="bold" text-anchor="middle" stroke="#000" stroke-width="0.5">ALAS2</text>
<text transform="translate(1648.4,1725.3) scale(1,1.035)" font-size="30.6" font-weight="bold" text-anchor="middle" stroke="#000" stroke-width="0.5">NIPAL4</text>
<text transform="translate(1837.3,1721.0) scale(1,1.035)" font-size="30.6" font-weight="bold" text-anchor="middle" stroke="#000" stroke-width="0.5">MYZAP</text>
<text transform="translate(1064.4,1567.3) scale(1,1.035)" font-size="30.6" font-weight="bold" text-anchor="middle" stroke="#000" stroke-width="0.5">[OSA]</text>
</g>
<g id="panelH">
<path d="M893.4,1926.0Q928.4,1796.0 1058.9,1793.1" fill="none" stroke="#0d0d0d" stroke-width="1.7"/><path d="M1068.2,1793.1L1057.3,1796.9L1057.2,1789.4Z" fill="#0d0d0d"/>
<path d="M897.0,1927.1Q925.6,1870.8 982.4,1885.4" fill="none" stroke="#0d0d0d" stroke-width="1.7"/><path d="M991.4,1888.1L979.8,1888.5L982.0,1881.3Z" fill="#0d0d0d"/>
<path d="M1095.3,1816.0Q1099.8,1876.2 1046.2,1892.1" fill="none" stroke="#0d0d0d" stroke-width="1.7"/><path d="M1037.1,1894.4L1046.8,1888.1L1048.7,1895.4Z" fill="#0d0d0d"/>
<path d="M1112.8,1787.2Q1194.4,1763.8 1234.3,1833.7" fill="none" stroke="#0d0d0d" stroke-width="1.7"/><path d="M1238.7,1842.0L1230.2,1834.1L1236.9,1830.5Z" fill="#0d0d0d"/>
<path d="M1037.0,2033.9Q974.8,1993.1 998.8,1927.4" fill="none" stroke="#0d0d0d" stroke-width="1.7"/><path d="M1002.3,1918.7L1001.7,1930.3L994.7,1927.5Z" fill="#0d0d0d"/>
<path d="M1058.6,2023.1Q1080.3,1884.8 1215.0,1866.6" fill="none" stroke="#0d0d0d" stroke-width="1.7"/><path d="M1224.2,1865.5L1213.8,1870.5L1212.9,1863.1Z" fill="#0d0d0d"/>
<path d="M907.9,1957.5Q968.1,1994.4 947.0,2057.1" fill="none" stroke="#0d0d0d" stroke-width="1.7"/><path d="M943.8,2065.9L944.1,2054.3L951.1,2056.9Z" fill="#0d0d0d"/>
<path d="M1246.2,1995.3Q1309.1,1950.9 1363.6,1998.9" fill="none" stroke="#0d0d0d" stroke-width="1.7"/><path d="M1370.4,2005.3L1359.8,2000.5L1365.0,1995.1Z" fill="#0d0d0d"/>
<path d="M1387.9,2001.5Q1399.4,1913.6 1483.2,1904.0" fill="none" stroke="#0d0d0d" stroke-width="1.7"/><path d="M1492.5,1903.2L1481.9,1907.9L1481.2,1900.4Z" fill="#0d0d0d"/>
<path d="M1572.3,2048.6Q1494.3,2014.7 1507.9,1935.2" fill="none" stroke="#0d0d0d" stroke-width="1.7"/><path d="M1509.7,1926.0L1511.2,1937.6L1503.9,1936.1Z" fill="#0d0d0d"/>
<path d="M1574.3,2067.9Q1481.0,2121.6 1407.9,2048.5" fill="none" stroke="#0d0d0d" stroke-width="1.7"/><path d="M1401.5,2041.7L1411.8,2047.0L1406.4,2052.2Z" fill="#0d0d0d"/>
<circle cx="1092.1" cy="1794.3" r="18.8" fill="#fff4e3"/><circle cx="1092.1" cy="1794.3" r="17.2" fill="#e62024"/>
<circle cx="1013.4" cy="1897.5" r="18.8" fill="#fff4e3"/><circle cx="1013.4" cy="1897.5" r="17.2" fill="#6a95d4"/>
<circle cx="1248.1" cy="1864.0" r="18.8" fill="#fff4e3"/><circle cx="1248.1" cy="1864.0" r="17.2" fill="#f5a623"/>
<circle cx="888.5" cy="1947.3" r="18.8" fill="#fff4e3"/><circle cx="888.5" cy="1947.3" r="17.2" fill="#f07820"/>
<circle cx="1056.0" cy="2044.8" r="18.8" fill="#fff4e3"/><circle cx="1056.0" cy="2044.8" r="17.2" fill="#f5a623"/>
<circle cx="933.1" cy="2087.3" r="18.8" fill="#fff4e3"/><circle cx="933.1" cy="2087.3" r="17.2" fill="#f5a623"/>
<circle cx="1229.1" cy="2009.0" r="18.8" fill="#fff4e3"/><circle cx="1229.1" cy="2009.0" r="17.2" fill="#f5a623"/>
<circle cx="1386.2" cy="2023.3" r="18.8" fill="#fff4e3"/><circle cx="1386.2" cy="2023.3" r="17.2" fill="#ec4b24"/>
<circle cx="1516.4" cy="1903.1" r="18.8" fill="#fff4e3"/><circle cx="1516.4" cy="1903.1" r="17.2" fill="#f0d42e"/>
<circle cx="1592.8" cy="2056.2" r="18.8" fill="#fff4e3"/><circle cx="1592.8" cy="2056.2" r="17.2" fill="#ee7a22"/>
<text transform="translate(1162.5,1838.2) scale(1,1.035)" font-size="30.6" font-weight="bold" text-anchor="middle" stroke="#000" stroke-width="0.5">MMP9</text>
<text transform="translate(1285.4,1922.6) scale(1,1.035)" font-size="30.6" font-weight="bold" text-anchor="middle" stroke="#000" stroke-width="0.5">VCAN</text>
<text transform="translate(1088.5,1945.0) scale(1,1.035)" font-size="30.6" font-weight="bold" text-anchor="middle" stroke="#000" stroke-width="0.5">S100A12</text>
<text transform="translate(899.0,2002.9) scale(1,1.035)" font-size="30.6" font-weight="bold" text-anchor="middle" stroke="#000" stroke-width="0.5">HP</text>
<text transform="translate(1101.0,2100.0) scale(1,1.035)" font-size="30.6" font-weight="bold" text-anchor="middle" stroke="#000" stroke-width="0.5">PLBD1</text>
<text transform="translate(955.2,2142.5) scale(1,1.035)" font-size="30.6" font-weight="bold" text-anchor="middle" stroke="#000" stroke-width="0.5">TIMD4</text>
<text transform="translate(1237.1,2069.2) scale(1,1.035)" font-size="30.6" text-anchor="middle" stroke="#000" stroke-width="0.4">GNG8</text>
<text transform="translate(1371.0,2086.6) scale(1,1.035)" font-size="30.6" text-anchor="middle" stroke="#000" stroke-width="0.4">KCNJ2</text>
<text transform="translate(1577.7,1965.1) scale(1,1.035)" font-size="30.6" text-anchor="middle" stroke="#000" stroke-width="0.4">SLC8A1</text>
<text transform="translate(1625.6,2105.0) scale(1,1.035)" font-size="30.6" text-anchor="middle" stroke="#000" stroke-width="0.4">KCNE1</text>
<text transform="translate(1788.7,2034.7) scale(1,1.035)" font-size="30.6" font-weight="bold" text-anchor="middle" stroke="#000" stroke-width="0.5">[CADOSA]</text>
</g>
<text transform="translate(5.0,37.3) scale(1,1.055)" font-size="40.0" stroke="#000" stroke-width="0.4">A</text>
<text transform="translate(720.6,37.6) scale(1,1.04)" font-size="40.6" stroke="#000" stroke-width="0.4">B</text>
<text transform="translate(2.7,743.7) scale(1,1.08)" font-size="43.0" stroke="#000" stroke-width="0.4">C</text>
<text transform="translate(886.6,742.9) scale(1,1.055)" font-size="43.4" stroke="#000" stroke-width="0.4">D</text>
<text transform="translate(4.4,1309.5) scale(1,1.07)" font-size="43.0" stroke="#000" stroke-width="0.4">E</text>
<text transform="translate(897.7,1435.8) scale(1,1.05)" font-size="43.6" stroke="#000" stroke-width="0.4">F</text>
<text transform="translate(8.3,1746.6) scale(1,1.09)" font-size="43.3" stroke="#000" stroke-width="0.4">G</text>
<text transform="translate(886.1,1762.8) scale(1,0.992)" font-size="44.6" stroke="#000" stroke-width="0.4">H</text>
</svg>
</body></html>
